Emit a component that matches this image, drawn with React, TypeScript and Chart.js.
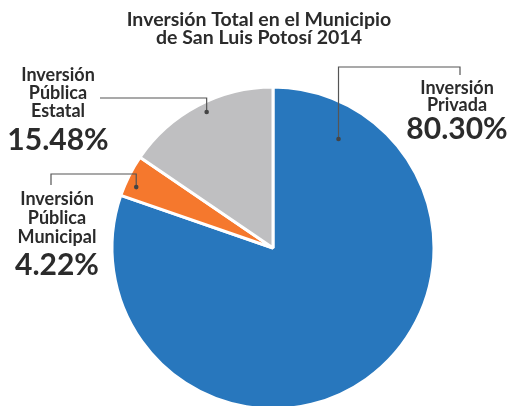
import React, { useEffect, useRef } from "react";
import { Chart, registerables } from "chart.js";

Chart.register(...registerables);

const categories = ["Inversión Privada", "Inversión Pública Municipal", "Inversión Pública Estatal"];
const values = [80.3, 4.22, 15.48];
const colors = ["#2877BD", "#F5782D", "#BFBFC1"];
const titleLines = ["Inversión Total en el Municipio", "de San Luis Potosí 2014"];
const labelLines = [["Inversión", "Privada"], ["Inversión", "Pública", "Municipal"], ["Inversión", "Pública", "Estatal"]];
const pctLabels = ["80.30%", "4.22%", "15.48%"];

// layout of annotations (pixels / angles) — not data
const layout = [
  { angleDeg: 31, frac: 0.79, elbowY: 67, endX: 460, endY: 75, textX: 457, lineYs: [88, 105], pctY: 129 },
  { angleDeg: 294, frac: 0.93, elbowY: 174, endX: 51, endY: 185, textX: 57, lineYs: [199, 218, 237], pctY: 265 },
  { angleDeg: 334, frac: 0.94, elbowY: 98, endX: 100, endY: 98, textX: 58, lineYs: [75, 93, 111], pctY: 140 },
];

const TEXT = "#2b2b2b";
const FONT = "Lato, 'Noto Sans', sans-serif";

const annotPlugin = {
  id: "annot",
  afterDraw(chart: any) {
    const ctx = chart.ctx;
    const meta = chart.getDatasetMeta(0);
    ctx.save();
    // title
    ctx.fillStyle = TEXT;
    ctx.textAlign = "center";
    ctx.textBaseline = "middle";
    ctx.font = `bold 19.5px ${FONT}`;
    ctx.fillText(titleLines[0], 259, 20);
    ctx.fillText(titleLines[1], 259, 38);

    meta.data.forEach((arc: any, i: number) => {
      const L = layout[i];
      const p = arc.getProps(["x", "y", "outerRadius"], true);
      const a = (L.angleDeg * Math.PI) / 180;
      const dx = p.x + Math.sin(a) * p.outerRadius * L.frac;
      const dy = p.y - Math.cos(a) * p.outerRadius * L.frac;
      ctx.strokeStyle = "#555555";
      ctx.lineWidth = 1.2;
      ctx.beginPath();
      ctx.moveTo(dx, dy);
      ctx.lineTo(dx, L.elbowY);
      ctx.lineTo(L.endX, L.elbowY);
      ctx.lineTo(L.endX, L.endY);
      ctx.stroke();
      ctx.fillStyle = "#444444";
      ctx.beginPath();
      ctx.arc(dx, dy, 2.3, 0, Math.PI * 2);
      ctx.fill();

      ctx.fillStyle = TEXT;
      ctx.font = `bold 18px ${FONT}`;
      labelLines[i].forEach((t, k) => ctx.fillText(t, L.textX, L.lineYs[k]));
      ctx.font = `bold 30px ${FONT}`;
      ctx.fillText(pctLabels[i], L.textX, L.pctY);
    });
    ctx.restore();
  },
};

export default function App() {
  const ref = useRef<HTMLCanvasElement>(null);
  useEffect(() => {
    document.body.style.margin = "0";
    const chart = new Chart(ref.current!, {
      type: "pie",
      data: {
        labels: categories,
        datasets: [
          {
            data: values,
            backgroundColor: colors,
            borderColor: "#ffffff",
            borderWidth: 3,
          },
        ],
      },
      options: {
        responsive: false,
        animation: false,
        layout: { padding: { left: 110.5, right: 79.5, top: 85.5, bottom: 9.5 } },
        plugins: {
          legend: { display: false },
          tooltip: { enabled: false },
          title: { display: false },
        },
      },
      plugins: [annotPlugin],
    });
    return () => chart.destroy();
  }, []);
  return (
    <div style={{ width: 515, height: 406, overflow: "hidden", background: "#fff" }}>
      <canvas ref={ref} width={515} height={420} style={{ display: "block" }} />
    </div>
  );
}
